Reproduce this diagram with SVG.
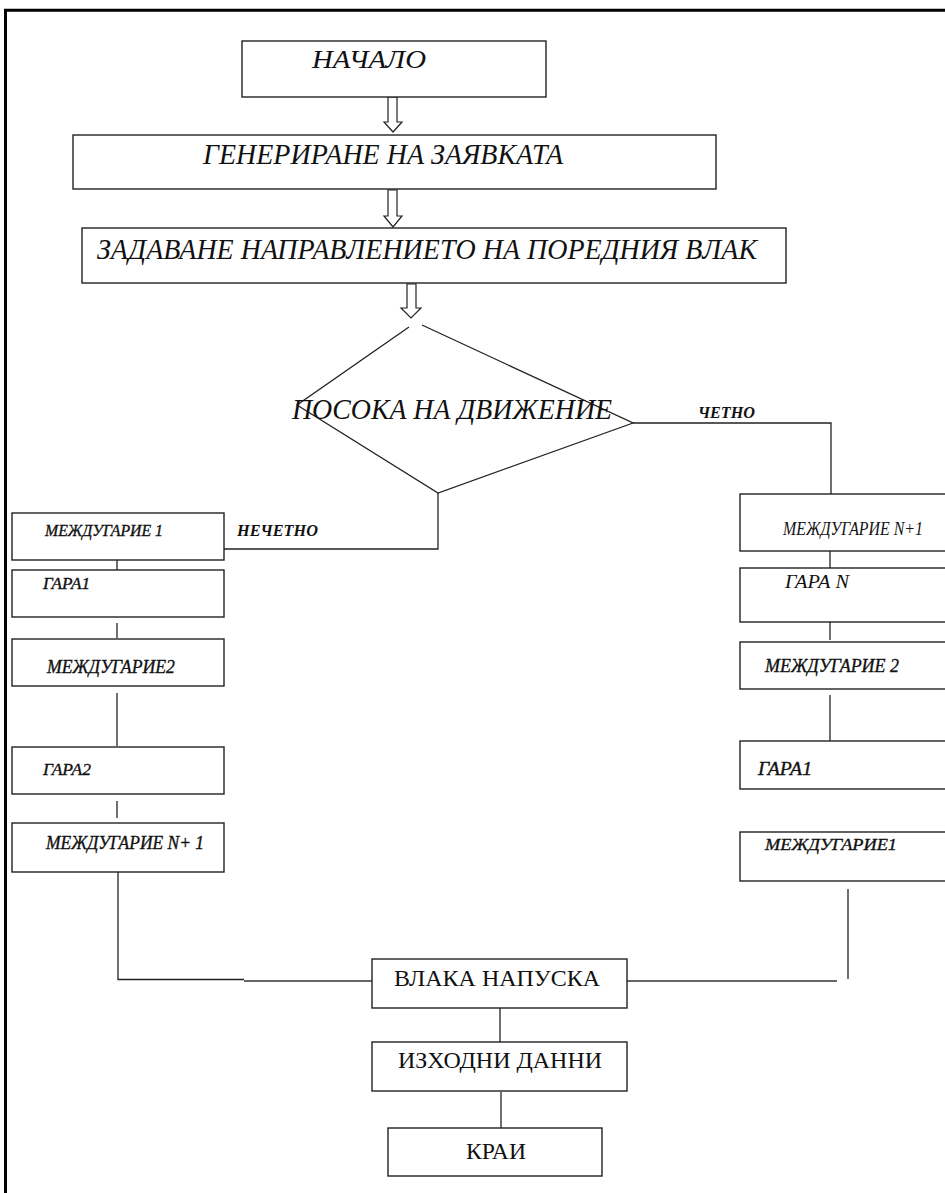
<svg xmlns="http://www.w3.org/2000/svg" width="945" height="1193" viewBox="0 0 945 1193">
<style>
.box{fill:#fff;stroke:#222;stroke-width:1.4}
.ln{fill:none;stroke:#222;stroke-width:1.3}
.arr{fill:#fff;stroke:#222;stroke-width:1.2;stroke-linejoin:miter}
.t{font-family:"Liberation Serif","Times New Roman",serif;fill:#111}
.i{font-style:italic}
.b{font-weight:bold}
.s{stroke:#111;stroke-width:0.35}
</style>
<rect width="945" height="1193" fill="#fff"/>
<g id="frame">
<line x1="4" y1="10.3" x2="945" y2="10.3" stroke="#000" stroke-width="3"/>
<line x1="5.5" y1="9" x2="5.5" y2="1193" stroke="#000" stroke-width="3"/>
</g>
<g id="connectors">
<path class="arr" d="M388,97 V122 H384 L393,132 L402,122 H397 V97 Z"/>
<path class="arr" d="M388,190 V216 H384 L393,227 L402,216 H397 V190 Z"/>
<path class="arr" d="M407,284 V308 H401 L411,318 L421,308 H416 V284 Z"/>
<polyline class="ln" points="633,423 831,423 831,494"/>
<polyline class="ln" points="438,493 438,549 224,549"/>
<line class="ln" x1="117" y1="551" x2="117" y2="586"/>
<line class="ln" x1="117" y1="623" x2="117" y2="638"/>
<line class="ln" x1="117" y1="693" x2="117" y2="746"/>
<line class="ln" x1="117" y1="801" x2="117" y2="818"/>
<polyline class="ln" points="118,872 118,979.5 244,979.5"/>
<line x1="244" y1="981" x2="372" y2="981" stroke="#333" stroke-width="1.6"/>
<line x1="627" y1="981" x2="837" y2="981" stroke="#333" stroke-width="1.6"/>
<line class="ln" x1="848" y1="889" x2="848" y2="979"/>
<line class="ln" x1="830" y1="551" x2="830" y2="577"/>
<line class="ln" x1="830" y1="622" x2="830" y2="640"/>
<line class="ln" x1="830" y1="695" x2="830" y2="747"/>
<line class="ln" x1="500" y1="1008" x2="500" y2="1043"/>
<line class="ln" x1="501" y1="1092" x2="501" y2="1128"/>
</g>
<g id="start">
<rect class="box" x="242" y="41" width="304" height="56"/>
<text class="t i" x="312" y="68" font-size="25" textLength="114" lengthAdjust="spacingAndGlyphs">НАЧАЛО</text>
</g>
<g id="generate">
<rect class="box" x="73" y="135" width="643" height="54"/>
<text class="t i" x="203" y="164" font-size="29" textLength="360" lengthAdjust="spacingAndGlyphs">ГЕНЕРИРАНЕ НА ЗАЯВКАТА</text>
</g>
<g id="direction">
<rect class="box" x="82" y="228" width="704" height="55"/>
<text class="t i" x="97" y="259" font-size="29" textLength="660" lengthAdjust="spacingAndGlyphs">ЗАДАВАНЕ НАПРАВЛЕНИЕТО НА ПОРЕДНИЯ ВЛАК</text>
</g>
<g id="decision">
<polyline class="ln" points="409,327 297,405 438,493 633,423 422,325"/>
<text class="t i" x="292" y="419" font-size="30" textLength="320" lengthAdjust="spacingAndGlyphs">ПОСОКА НА ДВИЖЕНИЕ</text>
<text class="t i b" x="698" y="418" font-size="17" textLength="57" lengthAdjust="spacingAndGlyphs">ЧЕТНО</text>
<text class="t i b" x="237" y="536" font-size="17" textLength="81" lengthAdjust="spacingAndGlyphs">НЕЧЕТНО</text>
</g>
<g id="left1">
<rect class="box" x="12" y="513" width="212" height="47"/>
<text class="t i s" x="45" y="536" font-size="16" textLength="118" lengthAdjust="spacingAndGlyphs">МЕЖДУГАРИЕ 1</text>
</g>
<g id="left2">
<rect class="box" x="12" y="570" width="212" height="47"/>
<text class="t i s" x="43" y="589" font-size="16" textLength="47" lengthAdjust="spacingAndGlyphs">ГАРА1</text>
</g>
<g id="left3">
<rect class="box" x="12" y="639" width="212" height="47"/>
<text class="t i s" x="47" y="673" font-size="18" textLength="128" lengthAdjust="spacingAndGlyphs">МЕЖДУГАРИЕ2</text>
</g>
<g id="left4">
<rect class="box" x="12" y="747" width="212" height="47"/>
<text class="t i s" x="43" y="775" font-size="17" textLength="48" lengthAdjust="spacingAndGlyphs">ГАРА2</text>
</g>
<g id="left5">
<rect class="box" x="12" y="823" width="212" height="49"/>
<text class="t i s" x="46" y="849" font-size="18" textLength="158" lengthAdjust="spacingAndGlyphs">МЕЖДУГАРИЕ N+ 1</text>
</g>
<g id="right1">
<rect class="box" x="740" y="494" width="210" height="57"/>
<text class="t i" x="783" y="535" font-size="18" textLength="140" lengthAdjust="spacingAndGlyphs">МЕЖДУГАРИЕ N+1</text>
</g>
<g id="right2">
<rect class="box" x="740" y="568" width="210" height="54"/>
<text class="t i" x="785" y="588" font-size="19" textLength="64" lengthAdjust="spacingAndGlyphs">ГАРА N</text>
</g>
<g id="right3">
<rect class="box" x="740" y="642" width="210" height="47"/>
<text class="t i s" x="765" y="672" font-size="18" textLength="134" lengthAdjust="spacingAndGlyphs">МЕЖДУГАРИЕ 2</text>
</g>
<g id="right4">
<rect class="box" x="740" y="741" width="210" height="48"/>
<text class="t i s" x="758" y="775" font-size="18" textLength="54" lengthAdjust="spacingAndGlyphs">ГАРА1</text>
</g>
<g id="right5">
<rect class="box" x="740" y="832" width="210" height="49"/>
<text class="t i s" x="765" y="850" font-size="17" textLength="132" lengthAdjust="spacingAndGlyphs">МЕЖДУГАРИЕ1</text>
</g>
<g id="leave">
<rect class="box" x="372" y="959" width="255" height="49"/>
<text class="t" x="394" y="986" font-size="23" textLength="206" lengthAdjust="spacingAndGlyphs">ВЛАКА НАПУСКА</text>
</g>
<g id="output">
<rect class="box" x="372" y="1042" width="255" height="49"/>
<text class="t" x="398" y="1068" font-size="23" textLength="204" lengthAdjust="spacingAndGlyphs">ИЗХОДНИ ДАННИ</text>
</g>
<g id="end">
<rect class="box" x="388" y="1128" width="214" height="48"/>
<text class="t" x="466" y="1159" font-size="23" textLength="60" lengthAdjust="spacingAndGlyphs">КРАИ</text>
</g>
</svg>
